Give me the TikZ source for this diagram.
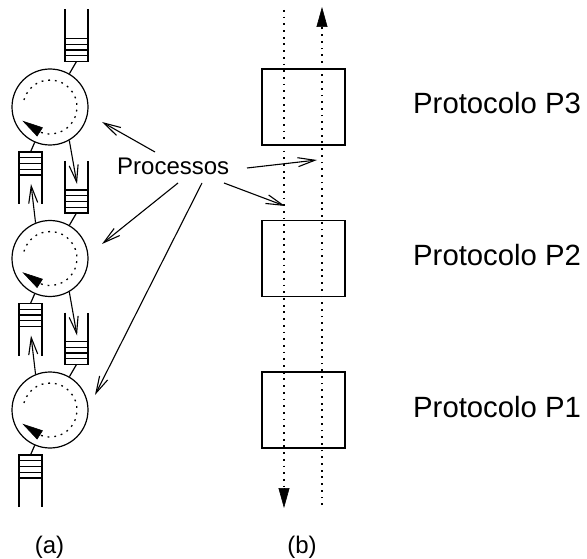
\documentclass[tikz,border=0pt]{standalone}
\usepackage{fontspec}
\setmainfont{Liberation Sans}
\usetikzlibrary{arrows.meta,calc}
\begin{document}
\begin{tikzpicture}[x=1pt,y=-1pt,
  line/.style={line width=1.2pt},
  proc/.style={circle,draw,line width=1.2pt,minimum size=76pt,inner sep=0pt},
  layer/.style={rectangle,draw,line width=1.2pt,minimum width=83pt,minimum height=76pt,inner sep=0pt},
  dotline/.style={line width=1.3pt,dash pattern=on 1.8pt off 4.9pt},
  openarrow/.style={line width=1.1pt,-{Straight Barb[length=17pt,width=9pt]}},
  fullhead/.style={-{Triangle[length=20pt,width=11pt]}},
  bigtxt/.style={font=\fontsize{29.3}{34}\selectfont,inner sep=0pt},
  midtxt/.style={font=\fontsize{24}{28}\selectfont,inner sep=0pt}]
\useasboundingbox (0,0) rectangle (587,559);

% ---------- (a): processes joined by queues ----------
\foreach \i/\cy in {1/107,2/258.5,3/410}{
  \node[proc] (c\i) at (50,\cy) {};
  % dotted turn of the process, with its arrow head
  \begin{scope}[shift={(c\i.center)}]
    \draw[dotline] (-165:27) arc[start angle=-165,end angle=111,radius=27];
    \coordinate (hb\i) at (111:27);
  \end{scope}
  \draw[line width=0.6pt,-{Triangle[length=21pt,width=10.5pt]}] (hb\i) -- ++(-18,-11.5);
}

% queues opening upwards (closed at the bottom)
\foreach \k/\cy in {0/-44.5,1/107,2/258.5}{
  \draw[line] (65,\cy+54) -- (65,\cy+106) -- (88,\cy+106) -- (88,\cy+54);
  \foreach \s in {83,88.75,94.5,100.25}
    \draw[line] (65,\cy+\s) -- (88,\cy+\s);
  \coordinate (rb\k) at (76.5,\cy+106);
  \coordinate (rt\k) at (77,\cy+77);
}

% queues opening downwards (closed at the top)
\foreach \k/\cy in {1/107,2/258.5,3/410}{
  \draw[line] (19,\cy+97) -- (19,\cy+45) -- (42,\cy+45) -- (42,\cy+97);
  \foreach \s in {50.75,56.5,62.25,68}
    \draw[line] (19,\cy+\s) -- (42,\cy+\s);
  \coordinate (lt\k) at (30.5,\cy+45);
  \coordinate (lb\k) at (31,\cy+77);
}

% queue-to-process links
\draw[line] (rb0) -- (c1);
\draw[line] (rb1) -- (c2);
\draw[line] (rb2) -- (c3);
\draw[line] (lt1) -- (c1);
\draw[line] (lt2) -- (c2);
\draw[line] (lt3) -- (c3);
\draw[openarrow] (c1.-60) -- (rt1);
\draw[openarrow] (c2.-60) -- (rt2);
\draw[openarrow] (c2.112) -- (lb1);
\draw[openarrow] (c3.112) -- (lb2);

% ---------- (b): protocol stack ----------
\node[layer] (p3) at (303.5,107) {};
\node[layer] (p2) at (303.5,258.5) {};
\node[layer] (p1) at (303.5,410) {};

\coordinate (dtop) at (284,10);
\coordinate (dbot) at (284,508);
\coordinate (utop) at (322,7);
\coordinate (ubot) at (322,505);
\draw[dotline] (dtop) -- ($(dbot)+(0,-18)$);
\draw[line width=0.6pt,fullhead] ($(dbot)+(0,-20)$) -- (dbot);
\draw[dotline] (ubot) -- ($(utop)+(0,18)$);
\draw[line width=0.6pt,fullhead] ($(utop)+(0,20)$) -- (utop);

\node[bigtxt,anchor=base west] (n3) at (413,114) {Protocolo P3};
\node[bigtxt,anchor=base west] (n2) at (413,265.5) {Protocolo P2};
\node[bigtxt,anchor=base west] (n1) at (413,417) {Protocolo P1};

% ---------- the label "Processos" and its pointers ----------
\node[midtxt,anchor=base west] (pr) at (117,175) {Processos};
\coordinate (s1) at (155,152);
\coordinate (s2) at (247,168);
\coordinate (s3) at (224,183);
\coordinate (s4) at (178,183);
\coordinate (s5) at (202,183);
\coordinate (t1) at (102,122);
\coordinate (t2) at (317,160);
\coordinate (t3) at (285,206);
\coordinate (t4) at (102,244);
\coordinate (t5) at (95,395);
\foreach \n in {1,...,5}
  \draw[openarrow] (s\n) -- (t\n);

% ---------- captions ----------
\node[midtxt,anchor=base] (capa) at (49.5,553) {(a)};
\node[midtxt,anchor=base] (capb) at (302,553) {(b)};
\end{tikzpicture}
\end{document}
